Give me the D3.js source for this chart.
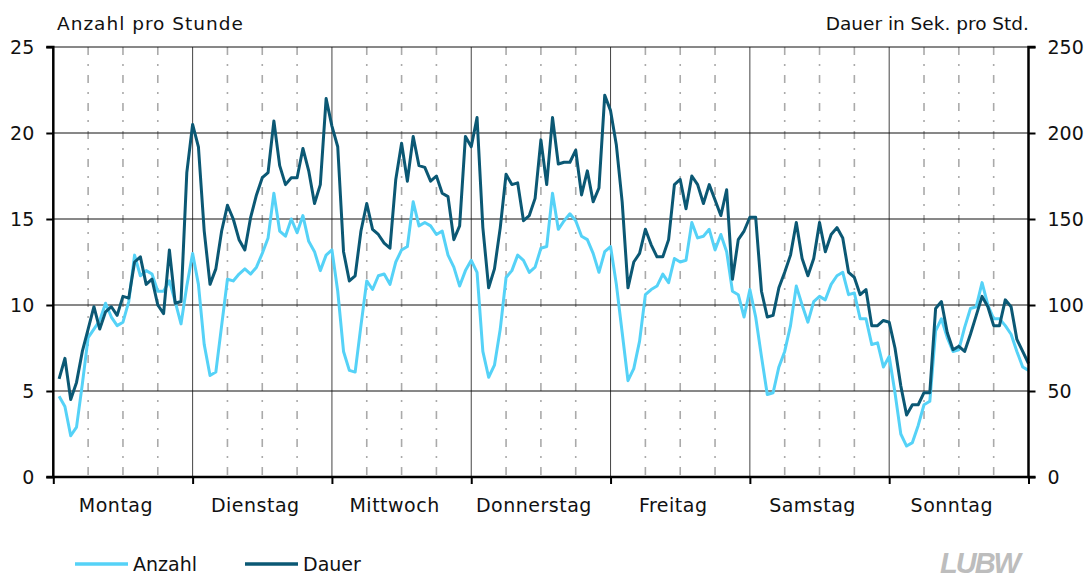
<!DOCTYPE html>
<html>
<head>
<meta charset="utf-8">
<script src="https://cdn.jsdelivr.net/npm/d3@7/dist/d3.min.js"></script>
<style>
  html, body { margin: 0; padding: 0; background: #fff; }
  svg { display: block; font-family: "DejaVu Sans", "Liberation Sans", sans-serif; }
</style>
</head>
<body>
<svg id="chart" width="1091" height="578"></svg>
<script>
const days = ["Montag", "Dienstag", "Mittwoch", "Donnerstag", "Freitag", "Samstag", "Sonntag"];
const leftTicks = [0, 5, 10, 15, 20, 25];
const rightTicks = [0, 50, 100, 150, 200, 250];

// Anzahl pro Stunde (hours 1..168, Monday 01:00 .. Sunday 24:00)
const anzahl = [
  4.7, 4.1, 2.4, 2.9, 5.4, 8.1, 8.6, 9.1, 10.1, 9.3, 8.8, 9.0, 10.2, 12.9, 11.7, 12.0, 11.8, 10.8, 10.8, 11.4, 10.2, 8.9, 11.1, 13.0,
  11.2, 7.7, 5.9, 6.1, 8.8, 11.5, 11.4, 11.8, 12.1, 11.8, 12.2, 13.0, 13.9, 16.5, 14.3, 14.0, 15.0, 14.2, 15.2, 13.7, 13.1, 12.0, 12.9, 13.2,
  10.8, 7.3, 6.2, 6.1, 8.8, 11.4, 10.9, 11.7, 11.8, 11.2, 12.5, 13.2, 13.4, 16.0, 14.6, 14.8, 14.6, 14.1, 14.3, 12.9, 12.2, 11.1, 12.0, 12.6,
  11.9, 7.3, 5.8, 6.5, 8.6, 11.6, 12.0, 12.9, 12.6, 11.9, 12.2, 13.3, 13.4, 16.5, 14.4, 14.9, 15.3, 14.9, 14.0, 13.8, 13.0, 11.9, 13.1, 13.4,
  11.2, 8.4, 5.6, 6.3, 7.9, 10.6, 10.9, 11.1, 11.8, 11.3, 12.7, 12.5, 12.6, 14.8, 13.9, 14.0, 14.4, 13.2, 14.1, 13.1, 10.8, 10.6, 9.3, 10.9,
  9.3, 7.0, 4.8, 4.9, 6.4, 7.3, 8.8, 11.1, 10.0, 9.0, 10.2, 10.5, 10.3, 11.2, 11.7, 11.9, 10.6, 10.7, 9.2, 9.2, 7.7, 7.8, 6.4, 7.0,
  4.9, 2.5, 1.8, 2.0, 3.0, 4.2, 4.4, 8.5, 9.2, 8.1, 7.3, 7.4, 8.7, 9.8, 9.9, 11.3, 10.0, 9.2, 9.2, 8.8, 8.3, 7.3, 6.4, 6.2
];

// Dauer in Sek. pro Std. (hours 1..168)
const dauer = [
  57, 69, 45, 55, 73, 86, 99, 86, 96, 99, 94, 105, 104, 125, 128, 112, 115, 100, 95, 132, 101, 102, 177, 205,
  192, 143, 112, 121, 143, 158, 150, 138, 132, 151, 164, 174, 177, 207, 181, 170, 174, 174, 191, 178, 159, 170, 220, 204,
  192, 131, 114, 117, 143, 159, 144, 141, 136, 133, 173, 194, 172, 198, 181, 180, 172, 175, 165, 163, 138, 146, 198, 192,
  209, 145, 110, 121, 145, 176, 170, 171, 149, 152, 162, 196, 170, 209, 182, 183, 183, 190, 164, 178, 160, 168, 222, 213,
  193, 160, 110, 125, 130, 144, 135, 128, 128, 138, 170, 173, 156, 175, 170, 159, 170, 161, 152, 167, 115, 138, 143, 151,
  151, 108, 93, 94, 110, 119, 129, 148, 127, 117, 127, 148, 131, 141, 145, 139, 119, 116, 106, 109, 88, 88, 91, 90,
  75, 53, 36, 42, 42, 49, 49, 98, 102, 84, 74, 76, 73, 83, 94, 105, 99, 88, 88, 103, 99, 80, 73, 66
];

const colAnzahl = "#55d2f7";
const colDauer = "#0b5874";

const svg = d3.select("#chart");
const L = 53.3, R = 1028.5, T = 47, B = 477;

const x = d3.scaleLinear().domain([0, 168]).range([L, R]);
const yL = d3.scaleLinear().domain([0, 25]).range([B, T]);
const yR = d3.scaleLinear().domain([0, 250]).range([B, T]);

// dashed 6-hour grid lines
const sixHours = d3.range(0, 168, 6).filter(h => h % 24 !== 0);
svg.append("g").selectAll("line").data(sixHours).join("line")
  .attr("x1", d => x(d)).attr("x2", d => x(d))
  .attr("y1", T).attr("y2", B)
  .attr("stroke", "#aaaaaa").attr("stroke-width", 1.6)
  .attr("stroke-dasharray", "8,9,2,9");

// day boundary lines
const dayBounds = d3.range(1, 7).map(d => d * 24);
svg.append("g").selectAll("line").data(dayBounds).join("line")
  .attr("x1", d => x(d)).attr("x2", d => x(d))
  .attr("y1", T).attr("y2", B)
  .attr("stroke", "#444").attr("stroke-width", 1);

// horizontal grid lines
svg.append("g").selectAll("line").data(leftTicks.filter(v => v > 0)).join("line")
  .attr("x1", L).attr("x2", R)
  .attr("y1", d => yL(d)).attr("y2", d => yL(d))
  .attr("stroke", "#111").attr("stroke-width", 1);

// lines
const lineA = d3.line().x((d, i) => x(i + 1)).y(d => yL(d));
const lineD = d3.line().x((d, i) => x(i + 1)).y(d => yR(d));
svg.append("path").datum(anzahl).attr("d", lineA)
  .attr("fill", "none").attr("stroke", colAnzahl).attr("stroke-width", 3)
  .attr("stroke-linejoin", "round");
svg.append("path").datum(dauer).attr("d", lineD)
  .attr("fill", "none").attr("stroke", colDauer).attr("stroke-width", 3)
  .attr("stroke-linejoin", "round");

// axes
const axL = svg.append("g").attr("transform", `translate(${L},0)`)
  .call(d3.axisLeft(yL).tickValues(leftTicks).tickSize(7).tickPadding(12));
const axR = svg.append("g").attr("transform", `translate(${R},0)`)
  .call(d3.axisRight(yR).tickValues(rightTicks).tickSize(7).tickPadding(12));
const axB = svg.append("g").attr("transform", `translate(0,${B})`)
  .call(d3.axisBottom(x).tickValues(d3.range(0, 169, 24)).tickSize(7).tickFormat(""));
[axL, axR, axB].forEach(g => {
  g.select(".domain").attr("stroke", "#000").attr("stroke-width", 2.5);
  g.selectAll(".tick line").attr("stroke", "#000").attr("stroke-width", 2);
  g.selectAll("text").attr("font-size", 19).attr("fill", "#111")
    .attr("font-family", "DejaVu Sans, sans-serif");
});
axL.select(".domain").attr("d", `M-7,${B}H0V${T}H-7`);
axR.select(".domain").attr("d", `M7,${B}H0V${T}H7`);
axB.select(".domain").attr("d", `M${L},0H${R}`);

// day labels
svg.append("g").selectAll("text").data(days).join("text")
  .attr("x", (d, i) => x(i * 24 + 12) - 7)
  .attr("y", 512)
  .attr("text-anchor", "middle")
  .attr("font-size", 19).attr("letter-spacing", 0.5).attr("fill", "#111")
  .text(d => d);

// axis titles
svg.append("text").attr("x", 57).attr("y", 30).attr("font-size", 18.5)
  .attr("letter-spacing", 1).attr("fill", "#111")
  .text("Anzahl pro Stunde");
svg.append("text").attr("x", 1029).attr("y", 30).attr("text-anchor", "end")
  .attr("font-size", 18.5).attr("fill", "#111")
  .text("Dauer in Sek. pro Std.");

// legend
const legend = [{ name: "Anzahl", color: colAnzahl, x: 75 }, { name: "Dauer", color: colDauer, x: 245 }];
const lg = svg.append("g").selectAll("g").data(legend).join("g");
lg.append("line").attr("x1", d => d.x).attr("x2", d => d.x + 53)
  .attr("y1", 564).attr("y2", 564)
  .attr("stroke", d => d.color).attr("stroke-width", 3.5);
lg.append("text").attr("x", d => d.x + 58).attr("y", 571)
  .attr("font-size", 19).attr("fill", "#111").text(d => d.name);

// logo
svg.append("text").attr("x", 940).attr("y", 573)
  .attr("font-size", 29).attr("font-weight", "bold").attr("font-style", "italic")
  .attr("font-family", "Liberation Sans Narrow, Liberation Sans, sans-serif")
  .attr("letter-spacing", -2).attr("fill", "#bdbdbd")
  .text("LUBW");
</script>
</body>
</html>
